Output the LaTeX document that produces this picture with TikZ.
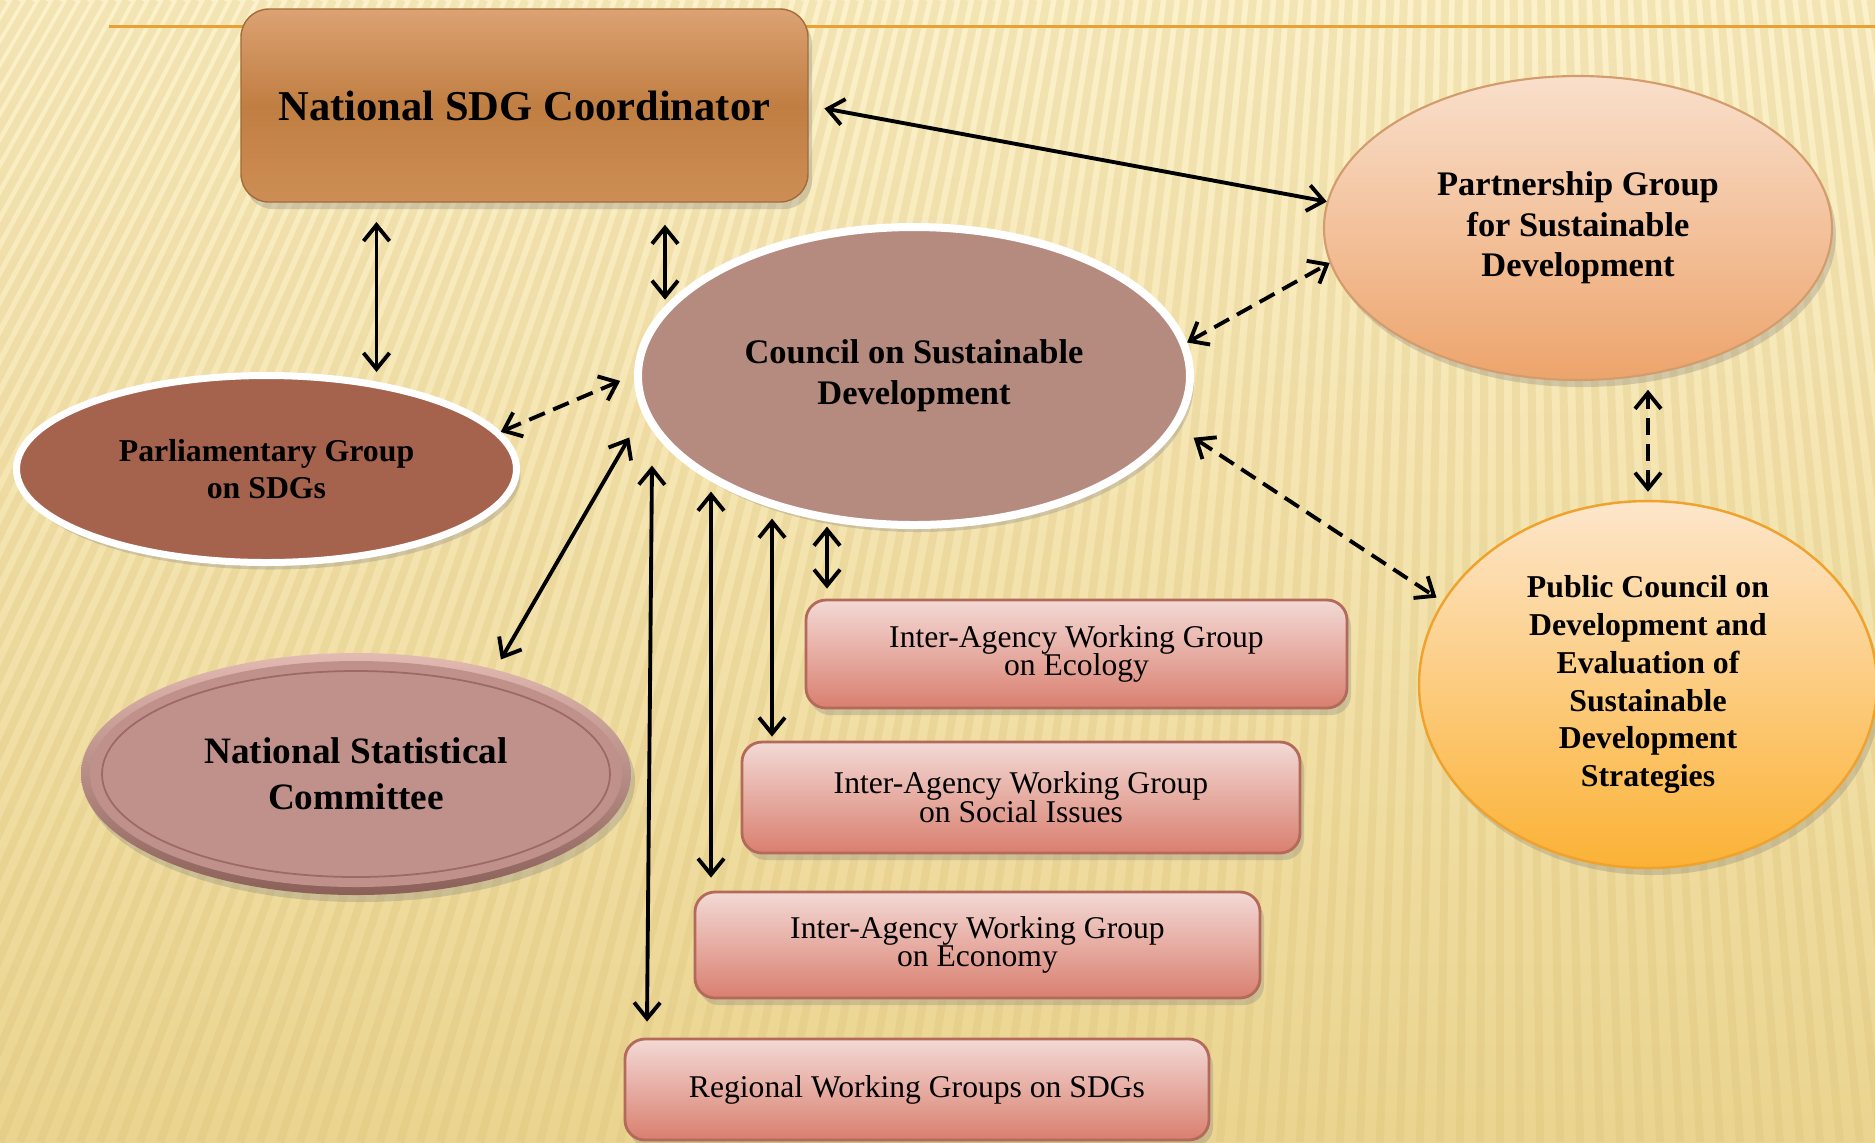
\documentclass[tikz,border=0pt]{standalone}
\usepackage{fontspec}
\setmainfont{Liberation Serif}
\usetikzlibrary{arrows.meta,shapes.geometric,shadows}

\definecolor{bgtop}{HTML}{FCF1CA}
\definecolor{bgbot}{HTML}{EAD48F}
\definecolor{stripe}{HTML}{D9BE74}
\definecolor{rule}{HTML}{E9A133}
\definecolor{coordtop}{HTML}{DCA273}
\definecolor{coordmid}{HTML}{C07E42}
\definecolor{coordbot}{HTML}{CD8E55}
\definecolor{councilfill}{HTML}{B58A7F}
\definecolor{parttop}{HTML}{F9DFCB}
\definecolor{partbot}{HTML}{EDA46C}
\definecolor{partline}{HTML}{D29C6C}
\definecolor{pubtop}{HTML}{FDE6CB}
\definecolor{pubbot}{HTML}{FBB235}
\definecolor{publine}{HTML}{EFA22C}
\definecolor{parlfill}{HTML}{A5634E}
\definecolor{nsctop}{HTML}{E3BAB2}
\definecolor{nscbot}{HTML}{8A6058}
\definecolor{nscfill}{HTML}{C0908A}
\definecolor{nscline}{HTML}{9A6A63}
\definecolor{wgtop}{HTML}{F3D9D5}
\definecolor{wgbot}{HTML}{D97F6F}
\definecolor{wgline}{HTML}{B46A5A}

\tikzset{
  twoway/.style={line width=1.1pt,>={Straight Barb[length=1.6mm,width=2.6mm]},<->},
  dashline/.style={twoway,dash pattern=on 1.7mm off 0.9mm},
  oval/.style={ellipse,inner sep=0pt,align=center},
  softshadow/.style={drop shadow={shadow xshift=0.04cm,shadow yshift=-0.07cm,opacity=0.3}},
  wgbox/.style={rectangle,rounded corners=0.2cm,draw=wgline,line width=0.8pt,top color=wgtop,bottom color=wgbot,
    align=center,inner sep=0pt,font=\fontsize{9}{8.2}\selectfont,softshadow},
}

\begin{document}
\begin{tikzpicture}
            \useasboundingbox (0,0) rectangle (18.75,-11.42);
            \shade[top color=bgtop,bottom color=bgbot] (0,0) rectangle (18.75,-11.42);
            \begin{scope}
                \clip (0,0) rectangle (18.75,-11.42);
                \foreach \x in {-8,-7.8,...,21.2}
                    \draw[stripe,opacity=0.25,line width=0.08cm] (\x,-11.42) -- ({\x+(15-\x)*0.3136},0);
            \end{scope}
            \draw[rule,line width=0.03cm] (1.09,-0.26) -- (18.75,-0.26);

            \node[rectangle,rounded corners=0.28cm,minimum width=5.67cm,minimum height=1.93cm,
                top color=coordtop,bottom color=coordbot,middle color=coordmid,draw=coordmid!85!black,line width=0.4pt,
                softshadow,font=\fontsize{12.1}{14}\selectfont\bfseries] (coord) at (5.245,-1.055) {National SDG Coordinator};

            \node[oval,minimum width=5.52cm,minimum height=2.98cm,fill=councilfill,draw=white,line width=0.08cm,
                softshadow,font=\fontsize{9.8}{11.7}\selectfont\bfseries] (council) at (9.14,-3.76) {Council on Sustainable\\Development};

            \node[oval,minimum width=5.08cm,minimum height=3.04cm,top color=parttop,bottom color=partbot,draw=partline,line width=0.6pt,
                softshadow,font=\fontsize{9.8}{11.55}\selectfont\bfseries] (partner) at (15.78,-2.28) {Partnership Group\\for Sustainable\\Development};

            \node[oval,minimum width=4.58cm,minimum height=3.67cm,top color=pubtop,bottom color=pubbot,draw=publine,line width=0.7pt,
                softshadow,font=\fontsize{9.05}{10.8}\selectfont\bfseries] (pub) at (16.48,-6.845)
                {Public Council on\\Development and\\Evaluation of\\Sustainable\\Development\\Strategies};

            \node[oval,minimum width=5.0cm,minimum height=1.87cm,fill=parlfill,draw=white,line width=0.07cm,
                softshadow,font=\fontsize{9.05}{10.5}\selectfont\bfseries] (parl) at (2.665,-4.69) {Parliamentary Group\\on SDGs};

            \node[oval,minimum width=5.5cm,minimum height=2.42cm,top color=nsctop,bottom color=nscbot,softshadow] (nsc) at (3.56,-7.74) {};
            \node[oval,minimum width=5.32cm,minimum height=2.26cm,fill=nscfill] (nscface) at (nsc) {};
            \node[oval,minimum width=5.08cm,minimum height=2.06cm,draw=nscline,line width=0.5pt,
                font=\fontsize{10.6}{13.1}\selectfont\bfseries] (nsctext) at (nsc) {National Statistical\\Committee};

            \node[wgbox,minimum width=5.41cm,minimum height=1.08cm] (eco) at (10.765,-6.54) {Inter-Agency Working Group\\on Ecology};
            \node[wgbox,minimum width=5.58cm,minimum height=1.11cm] (soc) at (10.21,-7.975) {Inter-Agency Working Group\\on Social Issues};
            \node[wgbox,minimum width=5.65cm,minimum height=1.06cm] (econ) at (9.775,-9.45) {Inter-Agency Working Group\\on Economy};
            \node[wgbox,minimum width=5.84cm,minimum height=1.01cm] (reg) at (9.17,-10.895) {Regional Working Groups on SDGs};

            \draw[twoway,shorten <=1.6mm] (coord.east) -- (partner.174);
            \draw[twoway] ([xshift=1.1cm]parl.north) -- ++(0,1.5);
            \draw[twoway] ([xshift=1.405cm,yshift=-2.2mm]coord.south) -- ++(0,-0.75);
            \draw[dashline] (parl.9) -- ([xshift=-1.4mm]council.181);
            \draw[twoway,shorten <=1.1mm,shorten >=2.7mm] (nsc.37) -- (council.188);
            \draw[twoway] ([xshift=-2.7cm,yshift=1.6mm]reg.north) -- ++(0.05,5.56);
            \draw[twoway] ([xshift=-2.665cm,yshift=1.3mm]econ.north) -- ++(0,3.86);
            \draw[twoway] ([xshift=-2.49cm,yshift=0.4mm]soc.north) -- ++(0,2.18);
            \draw[twoway] ([xshift=-2.495cm,yshift=1mm]eco.north) -- ++(0,0.62);
            \draw[dashline] (council.7) -- (partner.188);
            \draw[dashline,shorten <=1.9mm,shorten >=0.7mm] (council.349) -- (pub.158);
            \draw[dashline] ([yshift=0.8mm]pub.north) -- ++(0,1.02);
\end{tikzpicture}
\end{document}
